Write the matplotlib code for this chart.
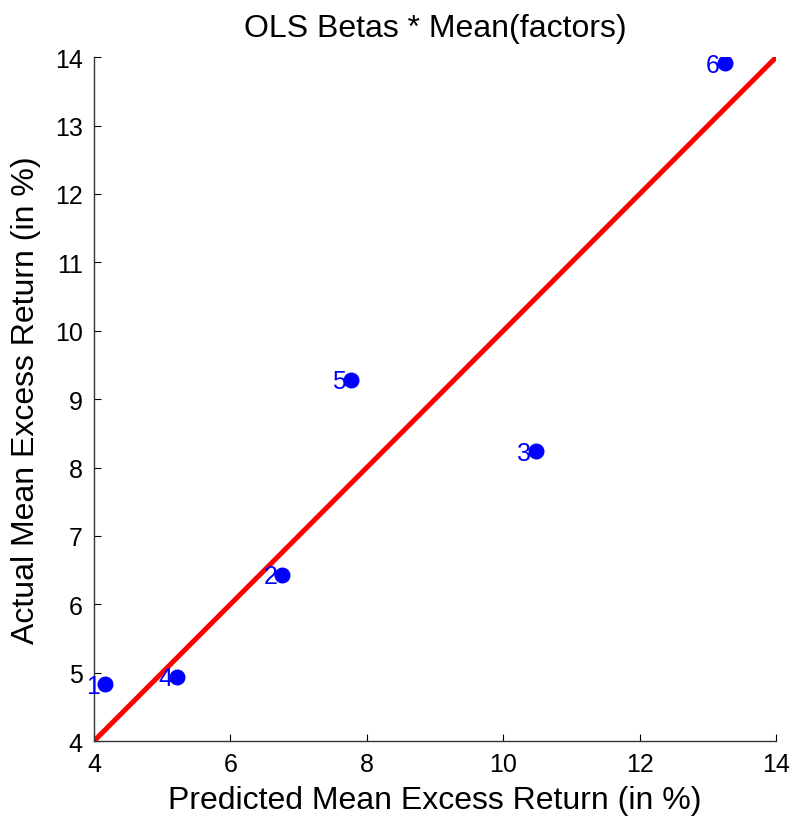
import matplotlib
matplotlib.use('Agg')
import matplotlib.pyplot as plt

plt.rcParams['font.family'] = ['Liberation Sans', 'DejaVu Sans']

# Predicted vs actual mean excess returns (in %)
predicted = [4.16, 6.76, 10.48, 5.22, 7.77, 13.25]
actual = [4.83, 6.43, 8.24, 4.94, 9.28, 13.91]
labels = ['1', '2', '3', '4', '5', '6']
diag = [4, 14]

fig = plt.figure(figsize=(7.96, 8.2), dpi=100)
ax = fig.add_axes([0.118, 0.095, 0.857, 0.834])

ax.plot(diag, diag, color='red', linewidth=3.6, solid_capstyle='butt', zorder=2)
ax.plot(predicted, actual, 'o', color='blue', markersize=10.5, zorder=4)
for px, py, lab in zip(predicted, actual, labels):
    ax.annotate(lab, (px, py), xytext=(-3.5, -1), textcoords='offset points',
                ha='right', va='center', color='blue', fontsize=18, zorder=3)

ax.set_xlim(4, 14)
ax.set_ylim(4, 14)
ax.set_xticks(range(4, 15, 2))
ax.set_yticks(range(4, 15, 1))
ax.tick_params(direction='in', labelsize=18, length=5, width=0.8, pad=8)
ax.spines['top'].set_visible(False)
ax.spines['right'].set_visible(False)
for s in ['left', 'bottom']:
    ax.spines[s].set_color('#333333')
    ax.spines[s].set_linewidth(1.0)

ax.set_title('OLS Betas * Mean(factors)', fontsize=23, pad=15)
ax.set_xlabel('Predicted Mean Excess Return (in %)', fontsize=23, labelpad=6)
ax.set_ylabel('Actual Mean Excess Return (in %)', fontsize=23, labelpad=10)

fig.savefig('out.png', dpi=100)
